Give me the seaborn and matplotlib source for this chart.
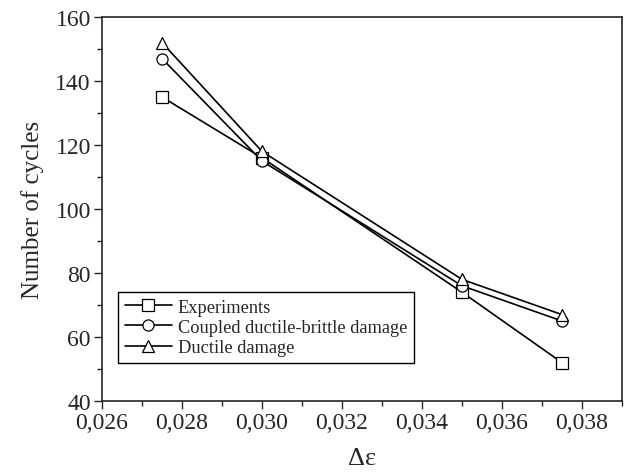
import numpy as np
import pandas as pd
import matplotlib
matplotlib.use("Agg")
import matplotlib.pyplot as plt
from matplotlib.ticker import MultipleLocator, FuncFormatter
import seaborn as sns

strain = [0.0275, 0.030, 0.035, 0.0375]
experiments = [135, 116, 74, 52]
coupled = [147, 115, 76, 65]
ductile = [152, 118, 78, 67]
series_names = ["Experiments", "Coupled ductile-brittle damage", "Ductile damage"]

df = pd.concat([
    pd.DataFrame({"x": strain, "y": experiments, "series": series_names[0]}),
    pd.DataFrame({"x": strain, "y": coupled, "series": series_names[1]}),
    pd.DataFrame({"x": strain, "y": ductile, "series": series_names[2]}),
])

sns.set_style("ticks")
plt.rcParams["font.family"] = ["Liberation Serif", "DejaVu Serif"]
plt.rcParams["mathtext.fontset"] = "stix"

fig = plt.figure(figsize=(6.44, 4.77), dpi=100)
ax = fig.add_axes([0.1584, 0.1572, 0.8074, 0.8051])

sns.lineplot(data=df, x="x", y="y", hue="series", style="series",
             palette=["black"] * 3, markers={series_names[0]: "s", series_names[1]: "o", series_names[2]: "^"},
             dashes=False, markerfacecolor="white", markeredgecolor="black",
             markeredgewidth=0.9, markersize=8, linewidth=1.2, ax=ax, sort=False)

for line in ax.lines:
    line.set_markerfacecolor("white")
    line.set_markeredgecolor("black")

ax.set_xlim(0.026, 0.039)
ax.set_ylim(40, 160)
ax.xaxis.set_major_locator(MultipleLocator(0.002))
ax.xaxis.set_minor_locator(MultipleLocator(0.001))
ax.yaxis.set_major_locator(MultipleLocator(20))
ax.yaxis.set_minor_locator(MultipleLocator(10))
ax.xaxis.set_major_formatter(FuncFormatter(lambda v, p: f"{v:.3f}".replace(".", ",")))
ax.tick_params(which="major", direction="out", length=6, width=1, labelsize=17, top=False, right=False, pad=2)
ax.tick_params(which="minor", direction="out", length=3.5, width=1, top=False, right=False)
for s in ax.spines.values():
    s.set_linewidth(1.2)
    s.set_visible(True)

ax.set_xlabel("Δε", fontsize=19, labelpad=10)
ax.set_ylabel("Number of cycles", fontsize=18, labelpad=8)

leg = ax.legend(loc="lower left", bbox_to_anchor=(0.031, 0.10), fontsize=13.2,
                frameon=True, fancybox=False, edgecolor="black", framealpha=1,
                handlelength=2.6, borderpad=0.35, labelspacing=0.18, handletextpad=0.3,
                borderaxespad=0)
leg.get_frame().set_linewidth(1.0)
for h in leg.legend_handles:
    h.set_markerfacecolor("white")
    h.set_markeredgecolor("black")
    h.set_color("black")

fig.savefig("out.png", dpi=100)
